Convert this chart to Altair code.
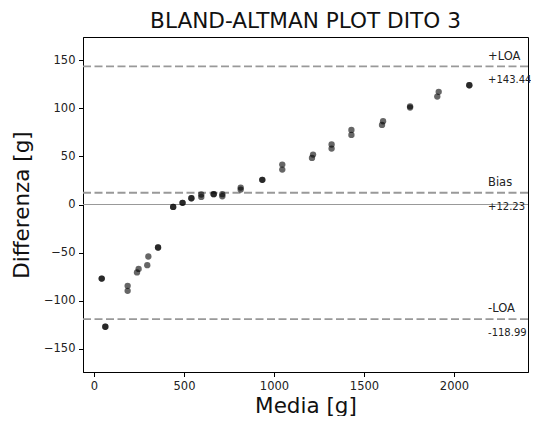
import altair as alt
import pandas as pd

# Data
media = [43, 43, 63, 63, 187, 187, 239, 248, 296, 302, 356, 356,
         440, 440, 492, 492, 541, 541, 596, 596, 665, 665, 713, 713,
         815, 815, 935, 935, 1046, 1046, 1211, 1217, 1320, 1320,
         1430, 1430, 1600, 1606, 1756, 1756, 1907, 1915, 2085, 2085]
differenza = [-77, -77, -127, -127, -84.5, -89.7, -70.6, -66.9, -63, -54, -44.7, -44.7,
              -2.5, -2.5, 1.7, 1.7, 6.5, 6.5, 10.4, 7.9, 10.7, 10.7, 10.7, 8.6,
              17.6, 15.5, 25.6, 25.6, 41.5, 36.3, 48.4, 51.9, 58.1, 62.3,
              72.3, 77.5, 82.7, 86.5, 102, 100.7, 112.1, 117, 123.9, 123.9]

line_values = [143.44, 12.23, -118.99]
line_names = ["+LOA", "Bias", "-LOA"]
line_value_labels = ["+143.44", "+12.23", "-118.99"]
label_x = [2189, 2189, 2189]

x_ticks = [0, 500, 1000, 1500, 2000]
y_ticks = [-150, -100, -50, 0, 50, 100, 150]

pts = pd.DataFrame({"Media": media, "Differenza": differenza})
lines = pd.DataFrame({"y": line_values, "name": line_names,
                      "val": line_value_labels, "x": label_x})
zero = pd.DataFrame({"y": [0]})

FONT = "DejaVu Sans"
xscale = alt.Scale(domain=[-61, 2411], nice=False, zero=False)
yscale = alt.Scale(domain=[-174, 174], nice=False, zero=False)

axis_style = dict(grid=False, domain=True, domainColor="black", tickColor="black",
                  tickSize=4.5, labelFont=FONT, labelFontSize=11.5, labelColor="#222222",
                  labelPadding=3.5, titleFont=FONT, titleFontSize=21.5,
                  titleFontWeight="normal", titleColor="#111111", format="d")

xaxis = alt.Axis(values=x_ticks, title="Media [g]", titlePadding=3.5, **axis_style)
yaxis = alt.Axis(values=y_ticks, title="Differenza [g]", titlePadding=10, **axis_style)

zero_rule = alt.Chart(zero).mark_rule(color="#999999", strokeWidth=1).encode(
    y=alt.Y("y:Q", scale=yscale, axis=yaxis)
)

dashed = alt.Chart(lines).mark_rule(color="#999999", strokeWidth=1.8,
                                    strokeDash=[8, 3.5]).encode(
    y=alt.Y("y:Q", scale=yscale, axis=yaxis)
)

points = alt.Chart(pts).mark_circle(size=40, color="black", opacity=0.6).encode(
    x=alt.X("Media:Q", scale=xscale, axis=xaxis),
    y=alt.Y("Differenza:Q", scale=yscale, axis=yaxis),
)

name_text = alt.Chart(lines).mark_text(align="left", baseline="middle", dy=-9.7,
                                       fontSize=11.5, font=FONT, color="#222222").encode(
    x=alt.X("x:Q", scale=xscale, axis=xaxis),
    y=alt.Y("y:Q", scale=yscale, axis=yaxis),
    text="name:N",
)

val_text = alt.Chart(lines).mark_text(align="left", baseline="middle", dy=14,
                                      fontSize=10, font=FONT, color="#222222").encode(
    x=alt.X("x:Q", scale=xscale, axis=xaxis),
    y=alt.Y("y:Q", scale=yscale, axis=yaxis),
    text="val:N",
)

chart = alt.layer(zero_rule, dashed, points, name_text, val_text).properties(
    width=445,
    height=335,
    padding={"left": 75, "top": 29, "right": 3, "bottom": 44},
    autosize=alt.AutoSizeParams(type="none"),
    background="white",
    title=alt.TitleParams("BLAND-ALTMAN PLOT DITO 3", fontSize=21.6, font=FONT,
                          fontWeight="normal", color="#111111", offset=4),
).configure_view(
    stroke="black", strokeWidth=1
)

chart.save("out.html", embed_options={"renderer": "svg", "actions": False})
